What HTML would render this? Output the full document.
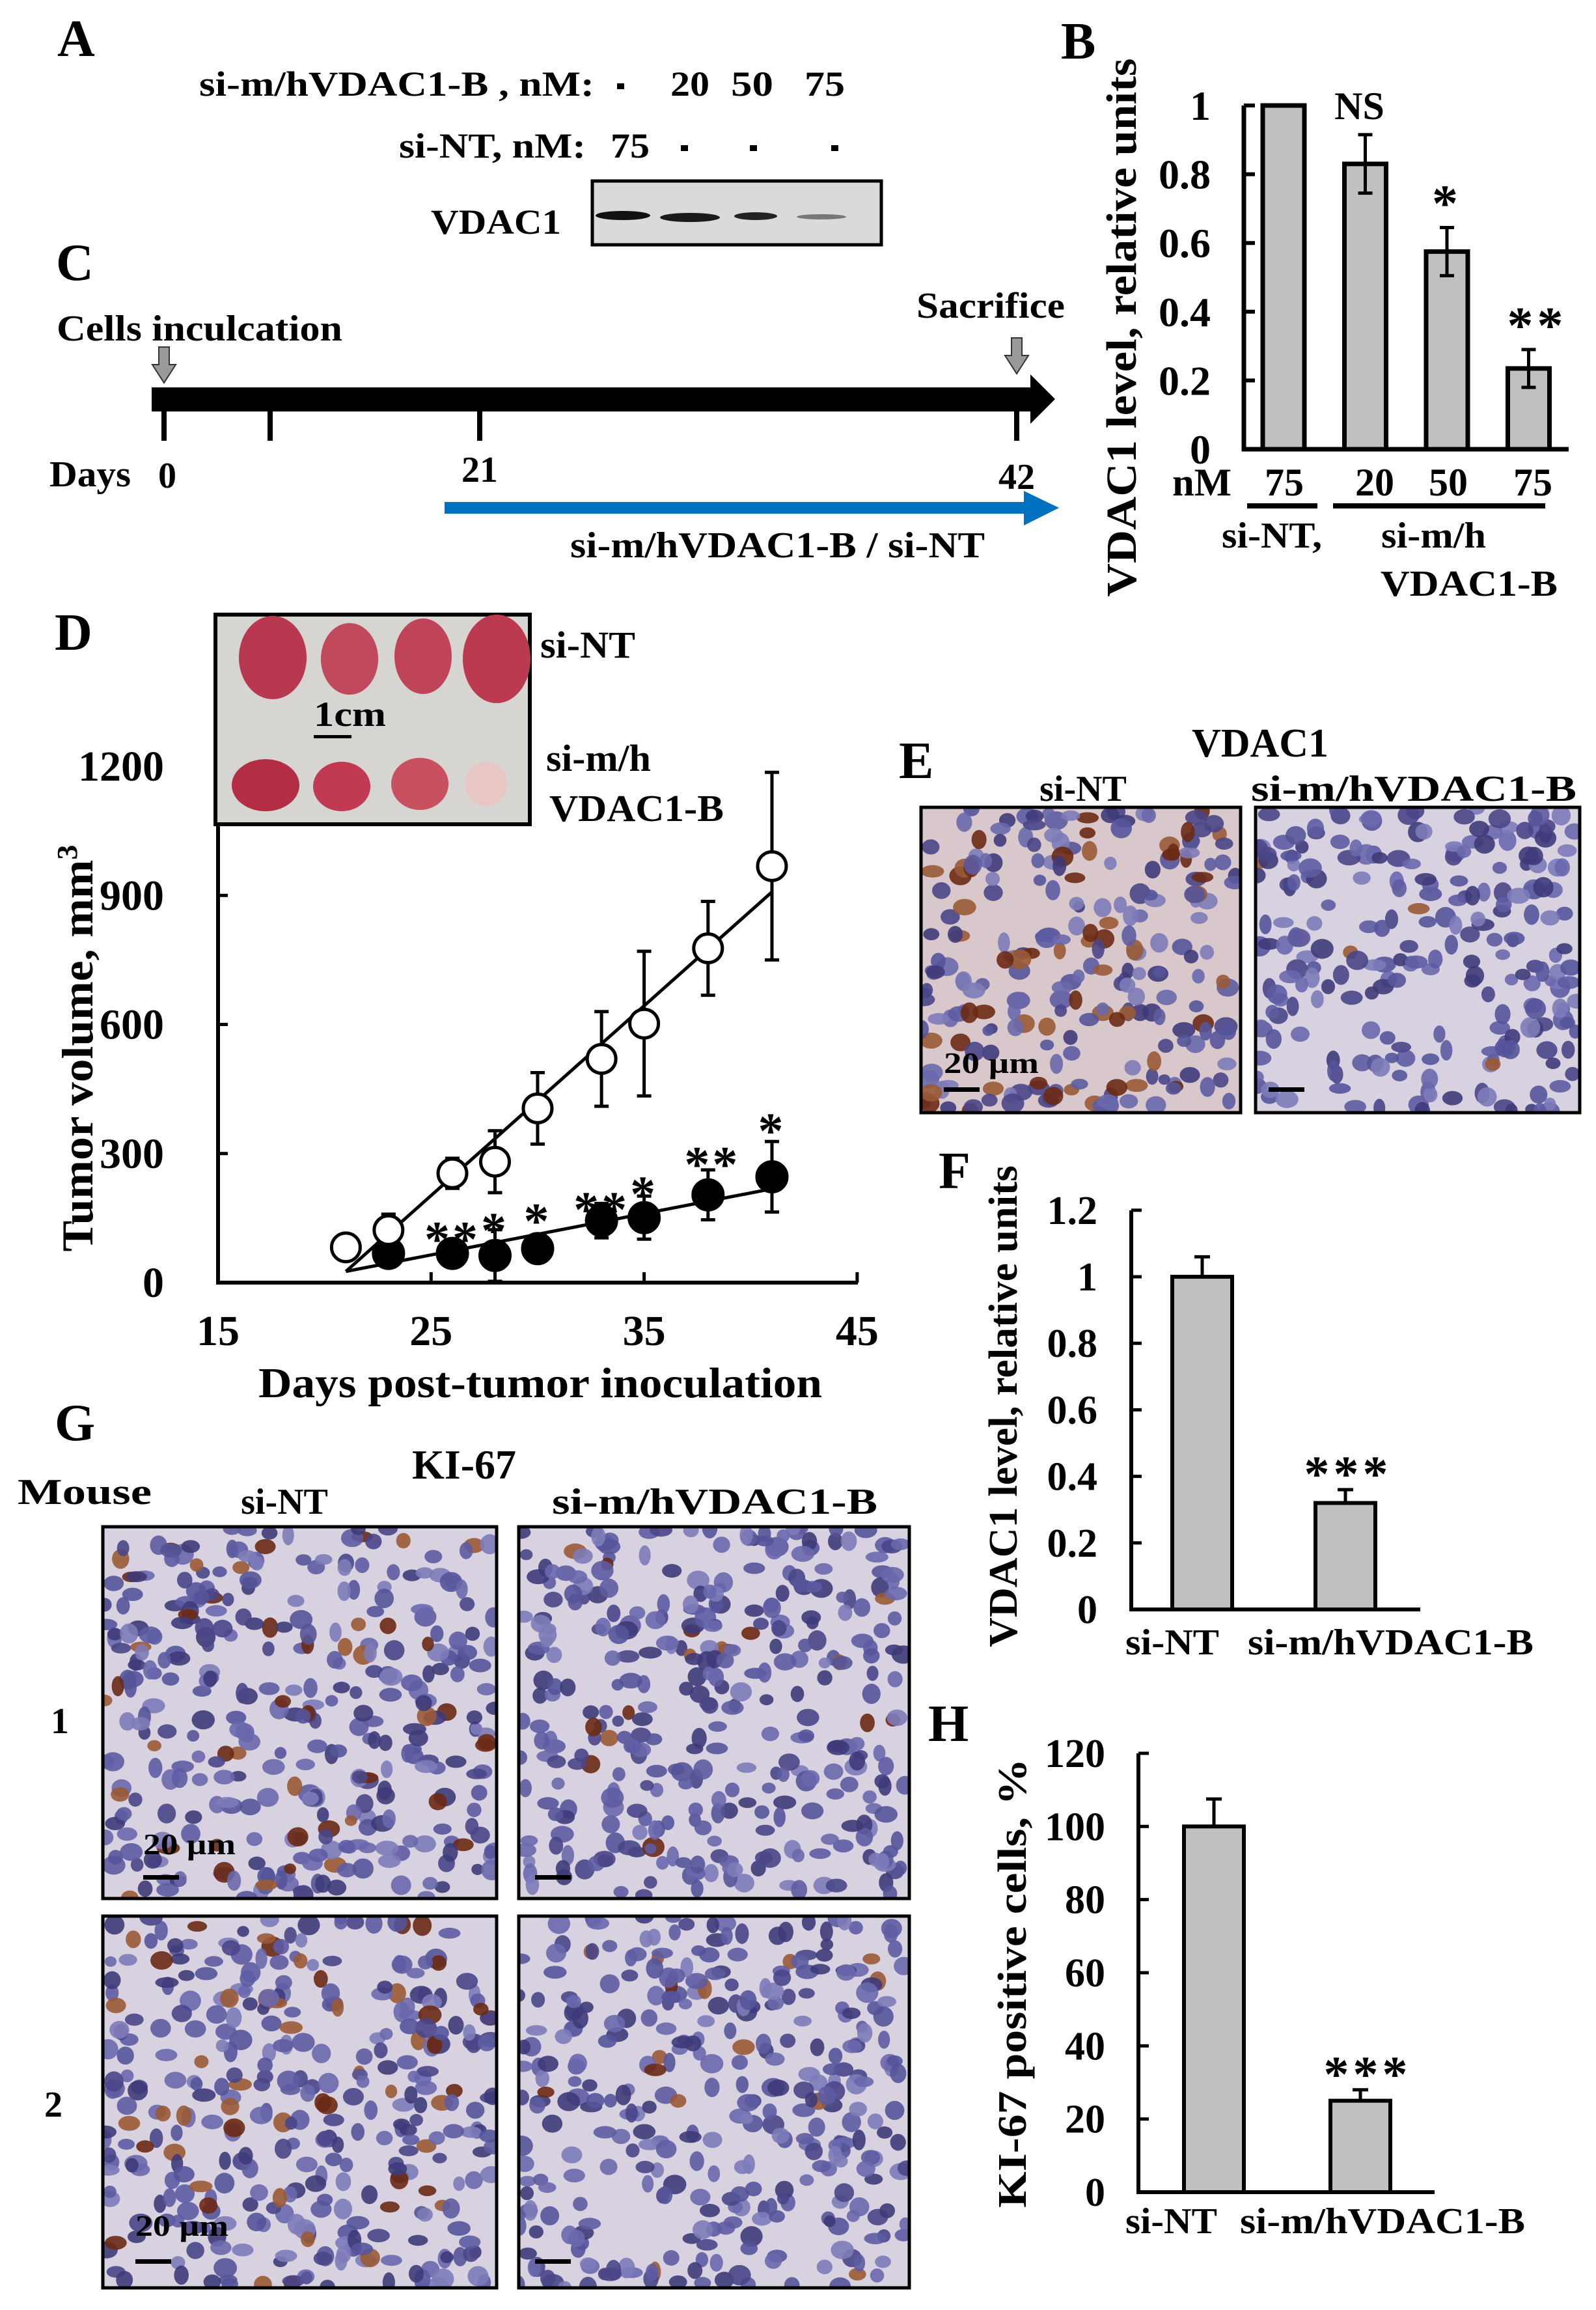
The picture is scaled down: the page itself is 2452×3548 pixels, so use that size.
<!DOCTYPE html>
<html><head><meta charset="utf-8"><style>
html,body{margin:0;padding:0;background:#fff}
svg{display:block}
text{font-family:"Liberation Serif",serif;font-weight:bold;fill:#000}
</style></head><body>
<svg id="fig" xmlns="http://www.w3.org/2000/svg" width="2452" height="3548" viewBox="0 0 2452 3548">
<rect width="2452" height="3548" fill="#fff"/>
<g font-size="80">
<text x="88" y="86">A</text>
<text x="1630" y="90">B</text>
<text x="86" y="430">C</text>
<text x="84" y="998">D</text>
<text x="1381" y="1195">E</text>
<text x="1442" y="1825">F</text>
<text x="84" y="2212">G</text>
<text x="1426" y="2674">H</text>
</g>
<g font-size="54">
<text x="306" y="147" textLength="607" lengthAdjust="spacingAndGlyphs">si-m/hVDAC1-B , nM:</text>
<rect x="948" y="128" width="11" height="9" fill="#000"/>
<text x="1030" y="147" textLength="60" lengthAdjust="spacingAndGlyphs">20</text>
<text x="1123" y="147" textLength="65" lengthAdjust="spacingAndGlyphs">50</text>
<text x="1236" y="147" textLength="62" lengthAdjust="spacingAndGlyphs">75</text>
<text x="613" y="242" textLength="287" lengthAdjust="spacingAndGlyphs">si-NT, nM:</text>
<text x="938" y="242" textLength="60" lengthAdjust="spacingAndGlyphs">75</text>
<rect x="1046" y="223" width="11" height="9" fill="#000"/>
<rect x="1152" y="223" width="11" height="9" fill="#000"/>
<rect x="1277" y="223" width="11" height="9" fill="#000"/>
<text x="662" y="359" textLength="200" lengthAdjust="spacingAndGlyphs">VDAC1</text>
<rect x="910" y="278" width="444" height="98" fill="#dadada" stroke="#000" stroke-width="5"/>
<ellipse cx="957" cy="331" rx="42" ry="7" fill="#111"/>
<ellipse cx="1060" cy="334" rx="46" ry="7" fill="#1a1a1a"/>
<ellipse cx="1161" cy="332" rx="33" ry="6" fill="#222"/>
<ellipse cx="1262" cy="333" rx="38" ry="4" fill="#777"/>
</g>
<g font-size="56">
<text x="87" y="523" textLength="439" lengthAdjust="spacingAndGlyphs">Cells inculcation</text>
<text x="1408" y="488" textLength="228" lengthAdjust="spacingAndGlyphs">Sacrifice</text>
<polygon points="244,533 260,533 260,560 270,560 252,588 234,560 244,560" fill="#999" stroke="#333" stroke-width="2"/>
<polygon points="1554,519 1570,519 1570,546 1580,546 1562,574 1544,546 1554,546" fill="#999" stroke="#333" stroke-width="2"/>
<polygon points="233,595 1583,595 1583,575 1621,613 1583,651 1583,632 233,632" fill="#000"/>
<rect x="248" y="630" width="8" height="47" fill="#000"/>
<rect x="411" y="630" width="8" height="47" fill="#000"/>
<rect x="733" y="630" width="8" height="47" fill="#000"/>
<rect x="1558" y="630" width="8" height="47" fill="#000"/>
<text x="76" y="747" textLength="125" lengthAdjust="spacingAndGlyphs">Days</text>
<text x="257" y="749" text-anchor="middle">0</text>
<text x="737" y="740" text-anchor="middle">21</text>
<text x="1562" y="751" text-anchor="middle">42</text>
<polygon points="683,771 1573,771 1573,754 1627,780 1573,807 1573,789 683,789" fill="#0070c0"/>
<text x="876" y="856" textLength="637" lengthAdjust="spacingAndGlyphs">si-m/hVDAC1-B / si-NT</text>
</g>
<g id="gB"></g>
<g id="gD"></g>
<g id="gF"></g>
<g id="gH"></g>
<g id="gMicro"></g>
<g font-size="56">
<text x="1936" y="1162" text-anchor="middle" font-size="62">VDAC1</text>
<text x="1664" y="1230" text-anchor="middle">si-NT</text>
<text x="2172" y="1230" text-anchor="middle" textLength="500" lengthAdjust="spacingAndGlyphs">si-m/hVDAC1-B</text>
</g>
<g font-size="56">
<text x="713" y="2271" text-anchor="middle" font-size="64">KI-67</text>
<text x="27" y="2310" textLength="206" lengthAdjust="spacingAndGlyphs">Mouse</text>
<text x="437" y="2325" text-anchor="middle">si-NT</text>
<text x="1098" y="2325" text-anchor="middle" textLength="500" lengthAdjust="spacingAndGlyphs">si-m/hVDAC1-B</text>
<text x="92" y="2662" text-anchor="middle">1</text>
<text x="82" y="3251" text-anchor="middle">2</text>
</g>
</svg>
<script>
// ---- Panel B data ----
const bCats = ["75", "20", "50", "75"];
const bVals = [1.0, 0.83, 0.575, 0.235];
const bErr = [0, 0.085, 0.07, 0.055];
const bSig = ["", "NS", "*", "**"];
const bTicks = ["0", "0.2", "0.4", "0.6", "0.8", "1"];
// ---- Panel D data ----
const dDays = [21, 23, 26, 28, 30, 33, 35, 38, 41];
const dNT = [82, 122, 254, 281, 405, 520, 602, 777, 968];
const dNTErr = [0, 37, 35, 72, 83, 110, 168, 109, 218];
const dSiDays = [23, 26, 28, 30, 33, 35, 38, 41];
const dSi = [68, 68, 63, 79, 144, 151, 204, 246];
const dSiErr = [15, 15, 60, 15, 40, 50, 58, 82];
const dSig = ["**", "*", "*", "**", "*", "**", "*"];
const dSigDays = [26, 28, 30, 33, 35, 38.2, 41];
const dSigVals = [128, 148, 170, 197, 233, 302, 380];
const dFitDays = [21, 41];
const dFitNT = [26, 908];
const dFitSi = [26, 218];
const dXTicks = ["15", "25", "35", "45"];
const dYTicks = ["0", "300", "600", "900", "1200"];
// ---- Panel F data ----
const fCats = ["si-NT", "si-m/hVDAC1-B"];
const fVals = [1.0, 0.32];
const fErr = [0.06, 0.04];
const fTicks = ["0", "0.2", "0.4", "0.6", "0.8", "1", "1.2"];
// ---- Panel H data ----
const hCats = ["si-NT", "si-m/hVDAC1-B"];
const hVals = [100, 25];
const hErr = [7.5, 3];
const hTicks = ["0", "20", "40", "60", "80", "100", "120"];

const NS = "http://www.w3.org/2000/svg";
function mk(parent, tag, attrs, txt) {
  const e = document.createElementNS(NS, tag);
  for (const k in attrs) e.setAttribute(k, attrs[k]);
  if (txt !== undefined) e.textContent = txt;
  parent.appendChild(e);
  return e;
}

// ===== Panel B =====
(function () {
  const g = document.getElementById('gB');
  const yB = v => 690 - v * 528;
  const xB = i => 1972 + i * 125.5;
  let e = mk(g, 'line', {x1: 1911, y1: yB(1), x2: 1911, y2: 693, stroke: '#000', 'stroke-width': 7});
  
  
  bTicks.forEach((t, i) => {
    const v = parseFloat(t);
    let tk = mk(g, 'line', {x1: 1911, y1: yB(v), x2: 1928, y2: yB(v), stroke: '#000', 'stroke-width': 6});
    
    
    let lb = mk(g, 'text', {x: 1860, y: yB(v) + 22, 'text-anchor': 'end', 'font-size': 64}, t);
    
    
  });
  bVals.forEach((v, i) => {
    let r = mk(g, 'rect', {x: xB(i) - 32, y: yB(v), width: 64, height: yB(0) - yB(v), fill: '#c0c0c0', stroke: '#000', 'stroke-width': 7});
    
    
    if (bErr[i] > 0) {
      let eb = mk(g, 'path', {d: `M${xB(i)},${yB(v + bErr[i])}V${yB(v - bErr[i])}M${xB(i) - 11},${yB(v + bErr[i])}H${xB(i) + 11}M${xB(i) - 11},${yB(v - bErr[i])}H${xB(i) + 11}`, stroke: '#000', 'stroke-width': 5, fill: 'none'});
      
      
    }
    if (bSig[i]) {
      const isStar = bSig[i] !== 'NS';
      let s = mk(g, 'text', {x: xB(i) - (i === 1 ? 9 : 0) + (i === 3 ? 13 : 0), y: yB(v + bErr[i]) - (isStar ? 10 : 24), 'text-anchor': 'middle', 'font-size': isStar ? 80 : 60, 'letter-spacing': isStar ? 6 : 0}, bSig[i]);
      
      
    }
  });
  e = mk(g, 'line', {x1: 1908, y1: 690, x2: 2410, y2: 690, stroke: '#000', 'stroke-width': 7});
  
  
  let nm = mk(g, 'text', {x: 1801, y: 761, 'font-size': 60, textLength: 91, lengthAdjust: 'spacingAndGlyphs'}, 'nM');
  
  
  const catX = [1973, 2112, 2225, 2355];
  bCats.forEach((c, i) => {
    let t = mk(g, 'text', {x: catX[i], y: 761, 'text-anchor': 'middle', 'font-size': 60}, c);
    
    
  });
  let u1 = mk(g, 'rect', {x: 1916, y: 773, width: 108, height: 8, fill: '#000'});
  
  
  let u2 = mk(g, 'rect', {x: 2048, y: 773, width: 326, height: 8, fill: '#000'});
  
  
  let g1 = mk(g, 'text', {x: 1877, y: 841, 'font-size': 56, textLength: 154, lengthAdjust: 'spacingAndGlyphs'}, 'si-NT,');
  
  
  let g2 = mk(g, 'text', {x: 2122, y: 841, 'font-size': 56, textLength: 161, lengthAdjust: 'spacingAndGlyphs'}, 'si-m/h');
  
  
  let g3 = mk(g, 'text', {x: 2121, y: 915, 'font-size': 56, textLength: 272, lengthAdjust: 'spacingAndGlyphs'}, 'VDAC1-B');
  
  
  let yt = mk(g, 'text', {x: 0, y: 0, 'font-size': 66, 'text-anchor': 'middle', textLength: 827, lengthAdjust: 'spacingAndGlyphs', transform: 'translate(1745,503) rotate(-90)'}, 'VDAC1 level, relative units');
  
  
})();

// ===== Panel D =====
(function () {
  const g = document.getElementById('gD');
  const xD = d => 335 + (d - 15) * 32.73;
  const yD = v => 1970 - v * 0.6608;
  let ph = mk(g, 'rect', {x: 331, y: 944, width: 483, height: 322, fill: '#d7d5d1', stroke: '#000', 'stroke-width': 6});
  
  
  const tum = [[419, 1010, 52, 64, '#b8394f'], [537, 1012, 44, 55, '#c04a5c'], [650, 1008, 44, 58, '#c04458'], [763, 1012, 52, 68, '#bb3a50'],
               [408, 1206, 52, 40, '#b32d45'], [525, 1208, 44, 38, '#c23a52'], [645, 1204, 44, 40, '#c9505f'], [747, 1204, 32, 34, '#e8c6c4']];
  tum.forEach(t => {
    let el = mk(g, 'ellipse', {cx: t[0], cy: t[1], rx: t[2], ry: t[3], fill: t[4]});
    
    
  });
  let sb = mk(g, 'rect', {x: 482, y: 1129, width: 58, height: 5, fill: '#000'});
  
  
  let cm = mk(g, 'text', {x: 482, y: 1115, 'font-size': 54, textLength: 111, lengthAdjust: 'spacingAndGlyphs'}, '1cm');
  
  
  [['si-NT', 830, 1010, 146], ['si-m/h', 839, 1184, 161], ['VDAC1-B', 844, 1261, 268]].forEach(a => {
    let t = mk(g, 'text', {x: a[1], y: a[2], 'font-size': 58, textLength: a[3], lengthAdjust: 'spacingAndGlyphs'}, a[0]);
    
    
  });
  let ya = mk(g, 'line', {x1: 335, y1: 1266, x2: 335, y2: 1973, stroke: '#000', 'stroke-width': 6});
  
  
  let xa = mk(g, 'line', {x1: 332, y1: 1970, x2: 1318, y2: 1970, stroke: '#000', 'stroke-width': 6});
  
  
  dYTicks.forEach(t => {
    const v = +t;
    if (v > 0 && v < 1200) {
      let tk = mk(g, 'line', {x1: 335, y1: yD(v), x2: 350, y2: yD(v), stroke: '#000', 'stroke-width': 5});
      
      
    }
    let lb = mk(g, 'text', {x: 252, y: yD(v) + 22, 'text-anchor': 'end', 'font-size': 66}, t);
    
    
  });
  dXTicks.forEach(t => {
    const d = +t;
    let tk = mk(g, 'line', {x1: xD(d), y1: 1970, x2: xD(d), y2: 1954, stroke: '#000', 'stroke-width': 5});
    
    
    let lb = mk(g, 'text', {x: xD(d), y: 2066, 'text-anchor': 'middle', 'font-size': 66}, t);
    
    
  });
  let xt = mk(g, 'text', {x: 397, y: 2146, 'font-size': 66, textLength: 866, lengthAdjust: 'spacingAndGlyphs'}, 'Days post-tumor inoculation');
  
  
  let yt = mk(g, 'text', {x: 0, y: 0, 'font-size': 68, 'text-anchor': 'middle', textLength: 625, lengthAdjust: 'spacingAndGlyphs', transform: 'translate(142,1610) rotate(-90)'});
  
  
  mk(yt, 'tspan', {}, 'Tumor volume, mm');
  mk(yt, 'tspan', {dy: -24, 'font-size': 44}, '3');
  let f1 = mk(g, 'line', {x1: xD(dFitDays[0]), y1: yD(dFitNT[0]), x2: xD(dFitDays[1]), y2: yD(dFitNT[1]), stroke: '#000', 'stroke-width': 5});
  
  
  let f2 = mk(g, 'line', {x1: xD(dFitDays[0]), y1: yD(dFitSi[0]), x2: xD(dFitDays[1]), y2: yD(dFitSi[1]), stroke: '#000', 'stroke-width': 5});
  
  
  function eb(d, v, e) {
    const x = xD(d);
    const p = `M${x},${yD(v + e)}V${yD(v - e)}M${x - 11},${yD(v + e)}H${x + 11}M${x - 11},${yD(v - e)}H${x + 11}`;
    let el = mk(g, 'path', {d: p, stroke: '#000', 'stroke-width': 5, fill: 'none'});
    
    
  }
  dDays.forEach((d, i) => { if (dNTErr[i] > 0) eb(d, dNT[i], dNTErr[i]); });
  dSiDays.forEach((d, i) => eb(d, dSi[i], dSiErr[i]));
  dSiDays.forEach((d, i) => {
    let c = mk(g, 'circle', {cx: xD(d), cy: yD(dSi[i]), r: 23, fill: '#000', stroke: '#000', 'stroke-width': 5});
    
    
  });
  dDays.forEach((d, i) => {
    let c = mk(g, 'circle', {cx: xD(d), cy: yD(dNT[i]), r: 22, fill: '#fff', stroke: '#000', 'stroke-width': 5});
    
    
  });
  dSig.forEach((s, i) => {
    let t = mk(g, 'text', {x: xD(dSigDays[i]), y: yD(dSigVals[i]) + 44, 'text-anchor': 'middle', 'font-size': 78, 'letter-spacing': 4}, s);
    
    
  });
})();

// ===== Panels F and H =====
function barPanel(id, prefix, cats, vals, errs, ticks, yFn, axisX, axisTop, axisBottom, axisRight, labelRight, xFn, halfW, catLabelX, catLabelW, labelY, sigX, sigY, title, titleX, titleY, titleLen) {
  const g = document.getElementById(id);
  let ya = mk(g, 'line', {x1: axisX, y1: axisTop, x2: axisX, y2: axisBottom + 3, stroke: '#000', 'stroke-width': 6});
  
  
  ticks.forEach(t => {
    const v = parseFloat(t);
    let tk = mk(g, 'line', {x1: axisX, y1: yFn(v), x2: axisX + 16, y2: yFn(v), stroke: '#000', 'stroke-width': 5});
    
    
    let lb = mk(g, 'text', {x: labelRight, y: yFn(v) + 21, 'text-anchor': 'end', 'font-size': 62}, t);
    
    
  });
  vals.forEach((v, i) => {
    const x = xFn(i);
    let r = mk(g, 'rect', {x: x - halfW, y: yFn(v), width: 2 * halfW, height: yFn(0) - yFn(v), fill: '#c0c0c0', stroke: '#000', 'stroke-width': 6});
    
    
    let e = mk(g, 'path', {d: `M${x},${yFn(v)}V${yFn(v + errs[i])}M${x - 12},${yFn(v + errs[i])}H${x + 12}`, stroke: '#000', 'stroke-width': 5, fill: 'none'});
    
    
    let lb = mk(g, 'text', {x: catLabelX[i], y: labelY, 'font-size': 56, textLength: catLabelW[i], lengthAdjust: 'spacingAndGlyphs'}, cats[i]);
    
    
  });
  let xa = mk(g, 'line', {x1: axisX - 3, y1: axisBottom, x2: axisRight, y2: axisBottom, stroke: '#000', 'stroke-width': 6});
  
  
  let s = mk(g, 'text', {x: sigX, y: sigY, 'text-anchor': 'middle', 'font-size': 78, 'letter-spacing': 6}, '***');
  
  
  let yt = mk(g, 'text', {x: 0, y: 0, 'font-size': 62, 'text-anchor': 'middle', textLength: titleLen, lengthAdjust: 'spacingAndGlyphs', transform: `translate(${titleX},${titleY}) rotate(-90)`}, title);
  
  
}
barPanel('gF', 'f', fCats, fVals, fErr, fTicks, v => 2472 - v * 511, 1738, 1859, 2472, 2182, 1686, i => 1847 + i * 220, 46, [1729, 1917], [144, 439], 2541, 2071, 2290, 'VDAC1 level, relative units', 1562, 2160, 740);
barPanel('gH', 'h', hCats, hVals, hErr, hTicks, v => 3367 - v * 5.617, 1749, 2693, 3367, 2204, 1698, i => 1865 + i * 225, 46, [1729, 1905], [141, 438], 3430, 2101, 3212, 'KI-67 positive cells, %', 1576, 3046, 690);

// ===== micrographs (decorative texture) =====
(function () {
  const g = document.getElementById('gMicro');
  let seed = 12345;
  const rnd = () => { seed = (seed * 1103515245 + 12345) % 2147483648; return seed / 2147483648; };
  const boxes = [
    [1415, 1240, 491, 469, 0.25, 'e-si-nt-micrograph', '#d8c8cc'], [1929, 1240, 498, 469, 0.03, 'e-si-vdac1-micrograph', '#d8d2e0'],
    [158, 2345, 605, 571, 0.12, 'g-mouse1-si-nt-micrograph', '#d8d2e0'], [797, 2345, 600, 571, 0.03, 'g-mouse1-si-vdac1-micrograph', '#d8d2e0'],
    [158, 2943, 605, 571, 0.14, 'g-mouse2-si-nt-micrograph', '#d8d2e0'], [797, 2943, 600, 571, 0.04, 'g-mouse2-si-vdac1-micrograph', '#d8d2e0']];
  const blues = ['#55549a', '#6a68ad', '#4a4688', '#7d7bb8', '#5e5ca2', '#3f3b7a'];
  boxes.forEach((b, bi) => {
    const [x, y, w, h, brown, name, bg] = b;
    const cp = mk(g, 'clipPath', {id: 'cp' + bi});
    mk(cp, 'rect', {x, y, width: w, height: h});
    const grp = mk(g, 'g', {'clip-path': `url(#cp${bi})`});
    
    
    mk(grp, 'rect', {x, y, width: w, height: h, fill: bg});
    const n = Math.round(w * h / 1000);
    for (let k = 0; k < n; k++) {
      const isBrown = rnd() < brown;
      mk(grp, 'ellipse', {cx: x + rnd() * w, cy: y + rnd() * h, rx: 9 + rnd() * 9, ry: 8 + rnd() * 8,
        fill: isBrown ? (rnd() < 0.5 ? '#6b2a14' : '#9a5a35') : blues[Math.floor(rnd() * blues.length)], opacity: 0.9});
    }
    const fr = mk(g, 'rect', {x, y, width: w, height: h, fill: 'none', stroke: '#000', 'stroke-width': 5});
    
    
  });
  const bars = [[1450, 1670, 1596, 1648, true], [1949, 1670, 0, 0, false], [220, 2880, 362, 2848, true], [822, 2880, 0, 0, false], [208, 3470, 351, 3434, true], [822, 3470, 0, 0, false]];
  bars.forEach(s => {
    const r = mk(g, 'rect', {x: s[0], y: s[1], width: 55, height: 7, fill: '#000'});
    
    
    if (s[4]) {
      const t = mk(g, 'text', {x: s[0], y: s[3], 'font-size': 46, textLength: s[2] - s[0], lengthAdjust: 'spacingAndGlyphs'}, '20 µm');
      
      
    }
  });
})();
</script>
</body></html>
